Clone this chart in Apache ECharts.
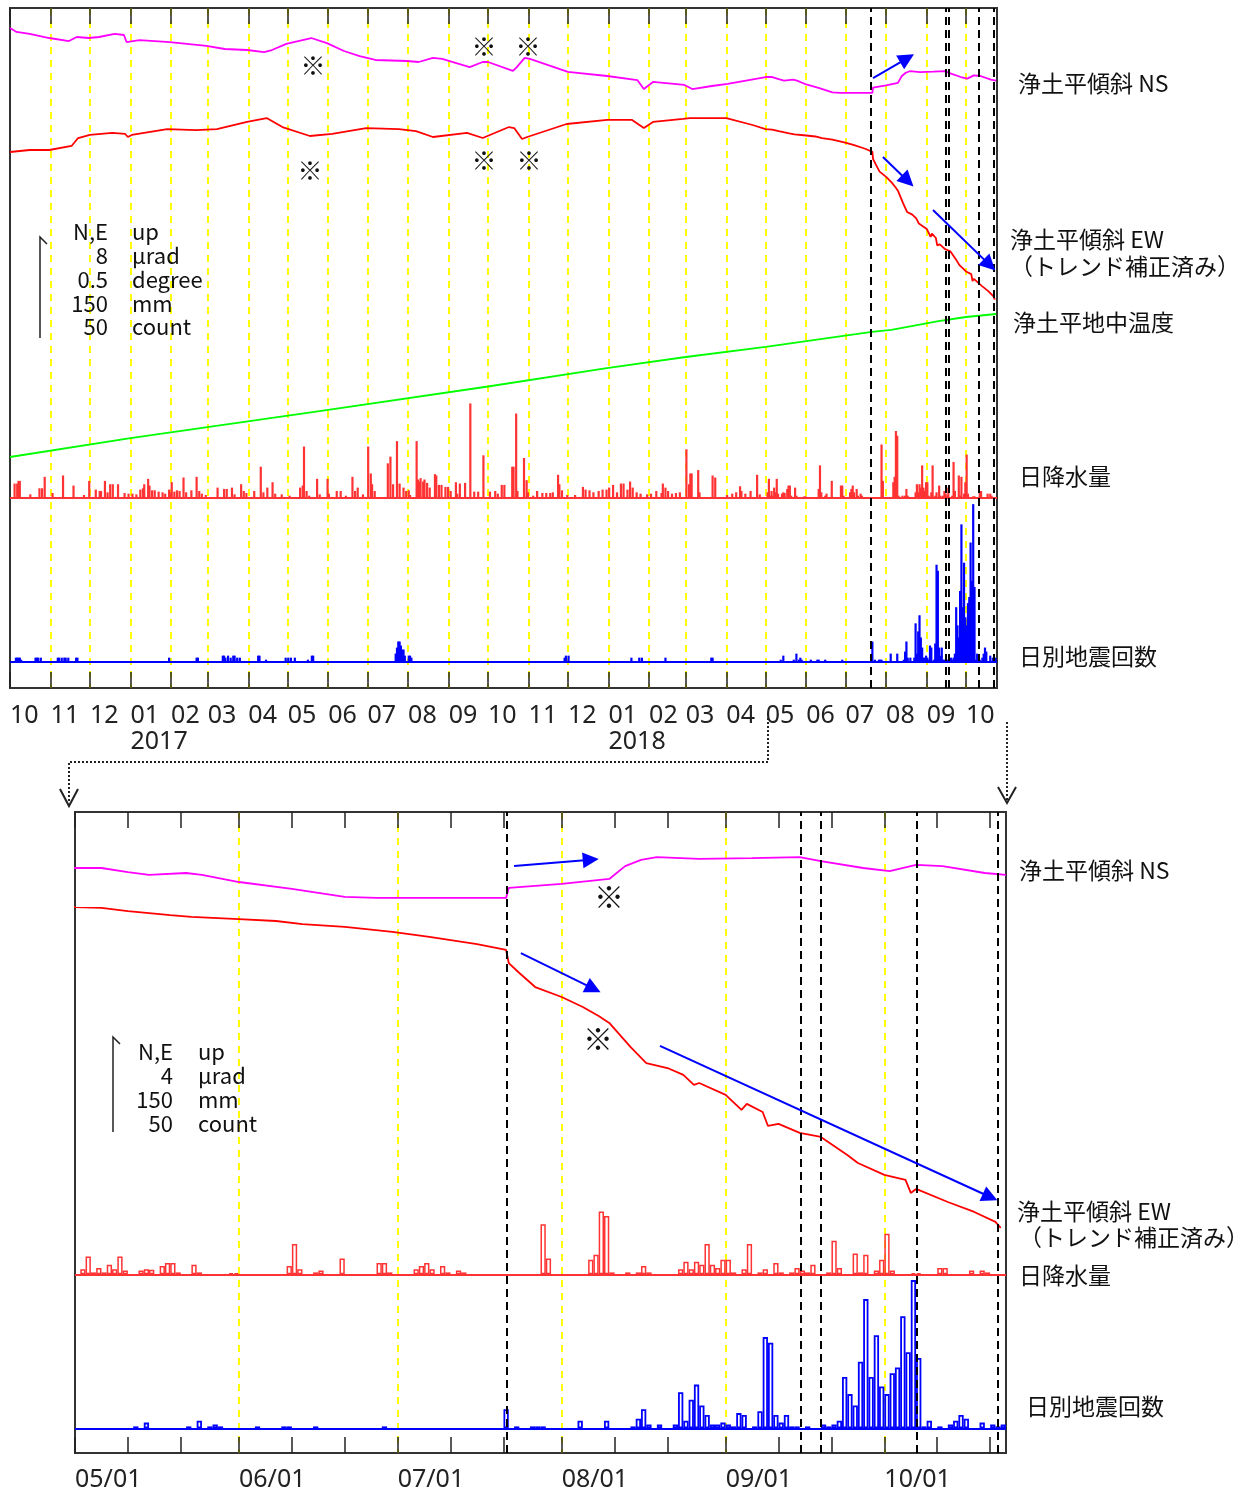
<!DOCTYPE html>
<html><head><meta charset="utf-8">
<script src="https://cdn.jsdelivr.net/npm/echarts@6/dist/echarts.min.js"></script>
<style>html,body{margin:0;padding:0;background:#fff}#c{width:1245px;height:1494px}</style>
</head><body><div id="c"></div><script>
// ---------------- data ----------------
// 浄土平傾斜 NS, μrad (relative)
const nsTilt = [
 ['2016-10-01',5.70],['2016-10-06',5.39],['2016-10-16',5.23],['2016-10-31',4.91],['2016-11-15',4.67],['2016-11-21',4.99],
 ['2016-11-30',4.91],['2016-12-08',4.99],['2016-12-20',5.23],['2016-12-27',5.15],['2016-12-29',4.59],['2017-01-08',4.75],
 ['2017-01-31',4.59],['2017-02-28',4.28],['2017-03-14',4.04],['2017-03-31',3.96],['2017-04-13',3.80],['2017-04-19',3.96],
 ['2017-04-30',4.44],['2017-05-19',4.91],['2017-05-31',4.51],['2017-06-13',3.88],['2017-06-25',3.48],['2017-07-07',3.17],
 ['2017-07-31',3.09],['2017-08-09',3.01],['2017-08-20',3.33],['2017-08-27',3.25],['2017-09-17',2.61],['2017-09-27',3.01],
 ['2017-10-01',3.01],['2017-10-20',2.30],['2017-10-23',2.61],['2017-10-29',3.33],['2017-11-02',3.25],['2017-12-01',2.22],
 ['2017-12-31',1.90],['2018-01-23',1.58],['2018-01-28',0.87],['2018-02-04',1.43],['2018-02-28',1.19],['2018-03-06',0.87],
 ['2018-03-21',1.11],['2018-04-02',1.27],['2018-05-01',1.82],['2018-05-06',1.82],['2018-05-11',1.65],['2018-05-15',1.53],
 ['2018-05-22',1.61],['2018-05-25',1.53],['2018-06-01',1.23],['2018-06-11',0.94],['2018-06-21',0.60],['2018-06-27',0.56],
 ['2018-07-07',0.56],['2018-07-21 12:00',0.56],['2018-07-22 00:00',0.98],['2018-08-01',1.15],['2018-08-10',1.36],
 ['2018-08-13',1.90],['2018-08-16',2.16],['2018-08-19',2.28],['2018-08-27',2.20],['2018-09-06',2.24],['2018-09-15',2.28],
 ['2018-09-19',2.11],['2018-09-27',1.82],['2018-10-02',1.69],['2018-10-07',1.95],['2018-10-12',1.90],['2018-10-20',1.61],
 ['2018-10-24',1.53]
];
// 浄土平傾斜 EW (トレンド補正済み), μrad (relative)
const ewTilt = [
 ['2016-10-01',-0.16],['2016-10-16',0.00],['2016-10-31',0.00],['2016-11-17',0.32],['2016-11-22',0.95],['2016-12-01',1.19],
 ['2016-12-18',1.35],['2016-12-28',1.27],['2016-12-30',1.03],['2017-01-02',1.19],['2017-01-29',1.66],['2017-02-20',1.58],
 ['2017-03-08',1.66],['2017-03-31',2.22],['2017-04-15',2.53],['2017-04-27',1.82],['2017-05-18',1.11],['2017-06-04',1.27],
 ['2017-06-30',1.74],['2017-07-25',1.66],['2017-08-07',1.50],['2017-08-20',1.03],['2017-09-15',1.35],['2017-09-27',0.95],
 ['2017-10-17',1.82],['2017-10-21',1.74],['2017-10-27',0.87],['2017-10-31',1.03],['2017-11-30',2.06],['2017-12-31',2.38],
 ['2018-01-19',2.38],['2018-01-28',1.74],['2018-02-04',2.22],['2018-02-27',2.46],['2018-03-04',2.53],['2018-04-01',2.53],
 ['2018-04-21',1.98],['2018-05-01',1.66],['2018-05-06',1.62],['2018-05-11',1.49],['2018-05-19',1.32],['2018-05-23',1.24],
 ['2018-06-01',1.15],['2018-06-08',1.07],['2018-06-13',0.94],['2018-06-21',0.82],['2018-06-30',0.61],['2018-07-07',0.40],
 ['2018-07-16',0.10],['2018-07-21 12:00',-0.15],['2018-07-22 00:00',-0.70],['2018-07-24',-1.12],['2018-07-27',-1.71],
 ['2018-08-01',-2.13],['2018-08-05',-2.55],['2018-08-08',-2.93],['2018-08-10',-3.22],['2018-08-14',-4.23],['2018-08-17',-4.91],
 ['2018-08-21',-5.12],['2018-08-24',-5.41],['2018-08-26',-5.83],['2018-08-27',-5.75],['2018-09-01',-6.25],['2018-09-04',-6.88],
 ['2018-09-05',-6.63],['2018-09-08',-6.97],['2018-09-09',-7.56],['2018-09-11',-7.47],['2018-09-15',-7.85],['2018-09-19',-8.02],
 ['2018-09-24',-8.78],['2018-09-26',-9.12],['2018-10-01',-9.62],['2018-10-05',-9.83],['2018-10-06',-10.38],['2018-10-07',-10.21],
 ['2018-10-13',-10.76],['2018-10-18',-11.18],['2018-10-22',-11.60],['2018-10-23',-11.85]
];
// 浄土平地中温度, degree (relative)
const groundTemp = [
 ['2016-10-01',0.000],['2017-01-01',0.093],['2017-06-01',0.233],['2017-10-01',0.349],['2018-01-01',0.441],['2018-03-01',0.495],
 ['2018-05-01',0.545],['2018-07-21',0.619],['2018-08-05',0.629],['2018-09-10',0.673],['2018-10-01',0.693],['2018-10-24',0.708]
];
// 日降水量, mm
const rainDaily = [
 ['2016-10-04',21],['2016-10-06',21],['2016-10-07',25],['2016-10-08',25],['2016-10-16',5],['2016-10-23',14],['2016-10-25',14],
 ['2016-10-27',31],['2016-11-02',7],['2016-11-10',33],['2016-11-18',18],['2016-11-26',4],['2016-11-30',25],['2016-12-05',12],
 ['2016-12-08',10],['2016-12-09',10],['2016-12-12',25],['2016-12-14',8],['2016-12-16',20],['2016-12-18',20],['2016-12-22',20],
 ['2016-12-27',7],['2016-12-30',6],['2017-01-02',6],['2017-01-05',5],['2017-01-08',12],['2017-01-10',14],['2017-01-11',20],
 ['2017-01-14',28],['2017-01-15',18],['2017-01-17',11],['2017-01-19',11],['2017-01-22',9],['2017-01-25',8],['2017-01-27',6],
 ['2017-01-30',12],['2017-01-31',8],['2017-02-01',23],['2017-02-03',9],['2017-02-05',11],['2017-02-07',10],['2017-02-10',30],
 ['2017-02-12',8],['2017-02-16',11],['2017-02-20',31],['2017-02-22',10],['2017-02-24',6],['2017-02-27',4],['2017-03-08',15],
 ['2017-03-13',13],['2017-03-15',13],['2017-03-19',15],['2017-03-21',5],['2017-03-26',20],['2017-03-28',10],['2017-03-30',7],
 ['2017-04-05',10],['2017-04-10',46],['2017-04-12',8],['2017-04-15',15],['2017-04-19',23],['2017-04-21',6],['2017-04-26',5],
 ['2017-05-02',3],['2017-05-10',15],['2017-05-12',18],['2017-05-13',76],['2017-05-15',10],['2017-05-17',3],['2017-05-23',28],
 ['2017-05-25',5],['2017-05-31',28],['2017-06-01',6],['2017-06-07',10],['2017-06-10',10],['2017-06-14',3],['2017-06-19',31],
 ['2017-06-21',10],['2017-06-23',15],['2017-06-27',5],['2017-07-01',76],['2017-07-03',36],['2017-07-04',20],['2017-07-06',10],
 ['2017-07-16',51],['2017-07-18',61],['2017-07-20',20],['2017-07-23',84],['2017-07-25',21],['2017-07-28',15],['2017-07-30',10],
 ['2017-08-01',11],['2017-08-02',4],['2017-08-07',84],['2017-08-08',27],['2017-08-09',24],['2017-08-10',29],['2017-08-12',24],
 ['2017-08-13',27],['2017-08-15',22],['2017-08-17',15],['2017-08-21',35],['2017-08-22',33],['2017-08-24',19],['2017-08-26',19],
 ['2017-08-29',16],['2017-08-31',16],['2017-09-02',10],['2017-09-06',23],['2017-09-07',6],['2017-09-09',21],['2017-09-13',22],
 ['2017-09-17',140],['2017-09-20',9],['2017-09-23',9],['2017-09-27',63],['2017-10-02',9],['2017-10-06',10],['2017-10-08',6],
 ['2017-10-11',19],['2017-10-13',19],['2017-10-19',46],['2017-10-20',46],['2017-10-22',125],['2017-10-23',10],['2017-10-28',59],
 ['2017-10-30',26],['2017-10-31',8],['2017-11-04',3],['2017-11-07',10],['2017-11-11',7],['2017-11-14',7],['2017-11-17',7],
 ['2017-11-19',8],['2017-11-23',34],['2017-11-24',20],['2017-11-26',11],['2017-11-30',4],['2017-12-06',4],['2017-12-12',16],
 ['2017-12-14',12],['2017-12-17',11],['2017-12-20',8],['2017-12-24',10],['2017-12-27',12],['2017-12-30',12],['2018-01-01',15],
 ['2018-01-04',19],['2018-01-07',8],['2018-01-10',21],['2018-01-12',21],['2018-01-15',12],['2018-01-17',24],['2018-01-19',15],
 ['2018-01-22',8],['2018-01-25',6],['2018-01-30',5],['2018-02-02',6],['2018-02-06',10],['2018-02-10',7],['2018-02-11',21],
 ['2018-02-13',15],['2018-02-15',10],['2018-02-18',6],['2018-02-21',7],['2018-02-24',8],['2018-03-01',72],['2018-03-03',20],
 ['2018-03-04',36],['2018-03-05',36],['2018-03-10',41],['2018-03-11',8],['2018-03-21',33],['2018-03-23',30],['2018-04-01',4],
 ['2018-04-05',6],['2018-04-08',8],['2018-04-11',17],['2018-04-12',10],['2018-04-15',6],['2018-04-19',10],['2018-04-24',34],
 ['2018-04-26',5],
 ['2018-05-02',8],['2018-05-03',28],['2018-05-04',3],['2018-05-05',10],['2018-05-06',3],['2018-05-07',15],['2018-05-08',8],
 ['2018-05-09',28],['2018-05-10',6],['2018-05-13',6],['2018-05-14',8],['2018-05-15',7],['2018-05-17',13],['2018-05-18',18],
 ['2018-05-19',18],['2018-05-20',3],['2018-05-23',15],['2018-05-24',3],['2018-05-30',2],['2018-05-31',2],['2018-06-10',13],
 ['2018-06-11',48],['2018-06-12',8],['2018-06-15',3],['2018-06-16',6],['2018-06-20',25],['2018-06-27',18],['2018-06-28',18],
 ['2018-06-29',3],['2018-07-04',8],['2018-07-05',13],['2018-07-06',18],['2018-07-07',8],['2018-07-09',13],['2018-07-10',3],
 ['2018-07-12',6],['2018-07-13',3],['2018-07-28',79],['2018-07-29',25],['2018-08-06',23],['2018-08-07',31],['2018-08-08',99],
 ['2018-08-09',92],['2018-08-10',3],['2018-08-13',3],['2018-08-15',3],['2018-08-16',13],['2018-08-17',3],['2018-08-23',8],
 ['2018-08-24',20],['2018-08-25',8],['2018-08-26',20],['2018-08-27',15],['2018-08-28',48],['2018-08-29',15],['2018-08-30',10],
 ['2018-08-31',23],['2018-09-01',23],['2018-09-02',3],['2018-09-04',8],['2018-09-05',48],['2018-09-07',3],['2018-09-08',8],
 ['2018-09-10',18],['2018-09-11',3],['2018-09-13',3],['2018-09-14',10],['2018-09-15',6],['2018-09-16',3],['2018-09-17',15],
 ['2018-09-20',3],['2018-09-21',53],['2018-09-22',10],['2018-09-25',33],['2018-09-26',3],['2018-09-27',31],['2018-09-29',6],
 ['2018-09-30',23],['2018-10-01',64],['2018-10-02',6],['2018-10-06',2],['2018-10-07',2],['2018-10-11',10],['2018-10-12',10],
 ['2018-10-17',6],['2018-10-19',6],['2018-10-20',3]
];
// 日別地震回数, count
const quakeDaily = [
 ['2016-10-05',2],['2016-10-06',2],['2016-10-07',2],['2016-10-08',2],['2016-10-09',1],['2016-10-20',2],['2016-10-21',2],
 ['2016-10-22',2],['2016-10-24',2],['2016-11-06',2],['2016-11-07',2],['2016-11-09',2],['2016-11-11',2],['2016-11-12',2],
 ['2016-11-14',2],['2016-11-20',2],['2016-11-21',2],['2017-01-30',2],['2017-02-20',2],['2017-02-21',2],['2017-03-12',3],
 ['2017-03-13',3],['2017-03-14',2],['2017-03-16',3],['2017-03-18',2],['2017-03-20',3],['2017-03-21',3],['2017-03-23',2],
 ['2017-03-25',2],['2017-04-08',3],['2017-04-09',3],['2017-04-14',1],['2017-04-29',2],['2017-05-01',2],['2017-05-03',2],
 ['2017-05-06',2],['2017-05-16',1],['2017-05-19',3],['2017-05-20',3],['2017-07-22',4],['2017-07-23',7],['2017-07-24',10],
 ['2017-07-25',10],['2017-07-26',8],['2017-07-27',6],['2017-07-28',6],['2017-07-29',3],['2017-08-01',3],['2017-08-02',3],
 ['2017-08-03',2],['2017-11-28',2],['2017-11-29',3],['2017-12-01',3],['2018-01-18',2],['2018-01-24',2],['2018-01-26',2],
 ['2018-02-13',2],['2018-03-20',2],['2018-03-21',2],
 ['2018-05-12',1],['2018-05-14',3],['2018-05-22',1],['2018-05-24',4],['2018-05-26',1],['2018-05-27',2],['2018-05-28',1],
 ['2018-06-04',1],['2018-06-09',1],['2018-06-10',1],['2018-06-15',1],['2018-06-28',1],['2018-07-21',10],['2018-07-23',1],
 ['2018-07-26',1],['2018-07-27',1],['2018-07-28',1],['2018-08-04',4],['2018-08-09',4],['2018-08-14',1],['2018-08-15',5],
 ['2018-08-16',10],['2018-08-17',2],['2018-08-19',2],['2018-08-22',2],['2018-08-23',19],['2018-08-24',4],['2018-08-25',15],
 ['2018-08-26',23],['2018-08-27',12],['2018-08-28',7],['2018-08-29',2],['2018-08-30',2],['2018-08-31',3],['2018-09-01',2],
 ['2018-09-02',1],['2018-09-03',8],['2018-09-04',7],['2018-09-06',1],['2018-09-07',9],['2018-09-08',48],['2018-09-09',45],
 ['2018-09-10',7],['2018-09-11',3],['2018-09-12',7],['2018-09-13',1],['2018-09-14',1],['2018-09-16',1],['2018-09-19',2],
 ['2018-09-20',1],['2018-09-21',2],['2018-09-22',4],['2018-09-23',27],['2018-09-24',18],['2018-09-25',12],['2018-09-26',35],
 ['2018-09-27',68],['2018-09-28',27],['2018-09-29',49],['2018-09-30',22],['2018-10-01',18],['2018-10-02',29],['2018-10-03',32],
 ['2018-10-04',59],['2018-10-05',40],['2018-10-06',78],['2018-10-07',37],['2018-10-08',1],['2018-10-09',4],['2018-10-11',1],
 ['2018-10-13',2],['2018-10-14',4],['2018-10-15',7],['2018-10-16',5],['2018-10-19',3],['2018-10-21',2],['2018-10-22',1],
 ['2018-10-23',2]
];
// tick values
const topMonthTicks = ['2016-10-01','2016-11-01','2016-12-01','2017-01-01','2017-02-01','2017-03-01','2017-04-01','2017-05-01',
 '2017-06-01','2017-07-01','2017-08-01','2017-09-01','2017-10-01','2017-11-01','2017-12-01','2018-01-01','2018-02-01',
 '2018-03-01','2018-04-01','2018-05-01','2018-06-01','2018-07-01','2018-08-01','2018-09-01','2018-10-01'];
const bottomTenDayTicks = ['2018-05-01','2018-05-11','2018-05-21','2018-06-01','2018-06-11','2018-06-21','2018-07-01','2018-07-11',
 '2018-07-21','2018-08-01','2018-08-11','2018-08-21','2018-09-01','2018-09-11','2018-09-21','2018-10-01','2018-10-11','2018-10-21'];
const bottomMonthTicks = ['2018-05-01','2018-06-01','2018-07-01','2018-08-01','2018-09-01','2018-10-01'];
// event lines (black dashed)
const topEventDates = ['2018-07-20 00:00','2018-09-15 12:00','2018-09-17 18:00','2018-10-10 16:00','2018-10-22 10:00'];
const bottomEventDates = ['2018-07-21 16:00','2018-09-15 05:00','2018-09-19 00:00','2018-10-07 05:00','2018-10-22 12:00'];
// blue arrows [start, end] in (date, μrad)
const topNsArrows = [[['2018-07-22 00:00',1.74],['2018-08-17 00:00',3.30]]];
const topEwArrows = [[['2018-07-29 14:00',-0.55],['2018-08-17 12:00',-2.45]],[['2018-09-05 19:00',-4.75],['2018-10-19 00:00',-9.10]]];
const botNsArrows = [[['2018-07-23 00:00',1.90],['2018-08-06 12:00',2.17]]];
const botEwArrows = [[['2018-07-24 07:00',-0.28],['2018-08-07 00:00',-1.78]],[['2018-08-19 14:00',-4.19],['2018-10-21 00:00',-10.55]]];

// ---------------- helpers ----------------
const DAY = 86400000;
function ts(s){ const p = s.split(' '); const [Y,M,D] = p[0].split('-').map(Number); let h=0, mi=0;
  if (p[1]) { [h,mi] = p[1].split(':').map(Number); } return Date.UTC(Y, M-1, D, h, mi); }
const pts = a => a.map(([d,v]) => [ts(d), v]);
const barsOf = a => a.map(([d,v]) => [ts(d) + DAY/2, v]);
const TOP = {left:10, top:8, width:987, height:680};
const BOT = {left:75, top:812, width:931, height:641};
function yr(refVal, refPx, g, perPx){ return {min: refVal - (g.top + g.height - refPx)*perPx, max: refVal + (refPx - g.top)*perPx}; }
const FJP = '"Noto Sans CJK JP","Noto Sans",sans-serif';
const FNUM = '"Liberation Sans Narrow","Noto Sans",sans-serif';
const pad = n => (n < 10 ? '0' : '') + n;
const fmtTop = v => { const d = new Date(v); const m = d.getUTCMonth()+1; return m === 1 ? pad(m) + '\n' + d.getUTCFullYear() : pad(m); };
const fmtBot = v => { const d = new Date(v); return pad(d.getUTCMonth()+1) + '/' + pad(d.getUTCDate()); };

const yellowSplit = {show:true, lineStyle:{color:'#ffff00', type:[7,6], width:2}};
const tickStyle = {show:true, inside:true, length:16, lineStyle:{color:'#222', width:1.5}};
function tickAxis(grid, min, max, pos, vals){
  return {type:'value', gridIndex:grid, min, max, position:pos, z:6, scale:true,
    axisLine:{show:false, onZero:false}, axisTick:Object.assign({customValues:vals.map(ts)}, tickStyle),
    axisLabel:{show:false}, splitLine:{show:false}};
}
function labelAxis(grid, min, max, vals, fmt, margin){
  return {type:'value', gridIndex:grid, min, max, position:'bottom', z:1, scale:true,
    axisLine:{show:false, onZero:false}, axisTick:{show:false, customValues:vals.slice(1).map(ts)},
    axisLabel:{show:true, customValues:vals.map(ts), formatter:fmt, align:'left', verticalAlign:'top', margin,
      color:'#222', fontSize:25, lineHeight:26, fontFamily:FNUM, showMinLabel:true, showMaxLabel:true},
    splitLine:yellowSplit};
}
const tMin = ts('2016-10-01'), tMax = ts('2018-10-24 16:00');
const bMin = ts('2018-05-01'), bMax = ts('2018-10-24 00:00');

const hidY = (grid, r) => ({type:'value', gridIndex:grid, min:r.min, max:r.max, show:false});
const evLines = (dates) => dates.map(d => ({xAxis: ts(d), lineStyle:{color:'#000', type:[8,5], width:2}}));
const arrows = (list) => list.map(([a,b]) => [{coord:[ts(a[0]), a[1]]}, {coord:[ts(b[0]), b[1]]}]);
const arrowML = (list) => ({silent:true, symbol:['none','triangle'], symbolSize:16, label:{show:false}, emphasis:{disabled:true},
  lineStyle:{color:'#0000ff', width:2, type:'solid'}, itemStyle:{color:'#0000ff'}, data: arrows(list)});
const plainML = (data) => ({silent:true, symbol:'none', label:{show:false}, emphasis:{disabled:true}, data});

function lineS(name, xi, yi, data, color, extra){
  return Object.assign({name, type:'line', xAxisIndex:xi, yAxisIndex:yi, data:pts(data), showSymbol:false, symbol:'none',
    lineStyle:{color, width:1.8}, itemStyle:{color}, emphasis:{disabled:true}, silent:true, z:3}, extra || {});
}

const option = {
  animation:false, backgroundColor:'#fff',
  grid:[
    Object.assign({show:true, borderColor:'#333', borderWidth:2, backgroundColor:'transparent', containLabel:false, outerBoundsMode:'none'}, TOP),
    Object.assign({show:true, borderColor:'#333', borderWidth:2, backgroundColor:'transparent', containLabel:false, outerBoundsMode:'none'}, BOT)
  ],
  xAxis:[
    labelAxis(0, tMin, tMax, topMonthTicks, fmtTop, 15),          // 0
    tickAxis(0, tMin, tMax, 'top', topMonthTicks),                // 1
    tickAxis(0, tMin, tMax, 'bottom', topMonthTicks),             // 2
    labelAxis(1, bMin, bMax, bottomMonthTicks, fmtBot, 14),       // 3
    tickAxis(1, bMin, bMax, 'bottom', bottomTenDayTicks),         // 4
    tickAxis(1, bMin, bMax, 'top', bottomTenDayTicks)             // 5
  ],
  yAxis:[
    hidY(0, yr(0, 100, TOP, 8/101)),      // 0 NS
    hidY(0, yr(0, 150, TOP, 8/101)),      // 1 EW
    hidY(0, yr(0, 457, TOP, 0.5/101)),    // 2 temp
    hidY(0, yr(0, 497.7, TOP, 150/101)),  // 3 rain
    hidY(0, yr(0, 661.7, TOP, 50/101)),   // 4 quake
    hidY(1, yr(1.82, 868, BOT, 4/95)),    // 5 NS
    hidY(1, yr(1.66, 907, BOT, 4/95)),    // 6 EW
    hidY(1, yr(0, 1274.3, BOT, 150/95)),  // 7 rain
    hidY(1, yr(0, 1428.3, BOT, 50/95))    // 8 quake
  ],
  series:[
    // ---- top ----
    {name:'rainTop', type:'bar', xAxisIndex:0, yAxisIndex:3, data:barsOf(rainDaily), barWidth:2.2, barGap:'-100%',
      itemStyle:{color:'#ff3333'}, silent:true, z:2,
      markLine: plainML([{yAxis:0, lineStyle:{color:'#ff3333', width:2, type:'solid'}}].concat(evLines(topEventDates)))},
    {name:'quakeTop', type:'bar', xAxisIndex:0, yAxisIndex:4, data:barsOf(quakeDaily), barWidth:2.2, barGap:'-100%',
      itemStyle:{color:'#0000ff'}, silent:true, z:2,
      markLine: plainML([{yAxis:0, lineStyle:{color:'#0000ff', width:2, type:'solid'}}])},
    lineS('tempTop', 0, 2, groundTemp, '#00ff00'),
    lineS('nsTop', 0, 0, nsTilt, '#ff00ff', {markLine: arrowML(topNsArrows)}),
    lineS('ewTop', 0, 1, ewTilt, '#ff0000', {markLine: arrowML(topEwArrows)}),
    // ---- bottom ----
    {name:'rainBot', type:'bar', xAxisIndex:3, yAxisIndex:7, data:barsOf(rainDaily), barWidth:5.29, barGap:'-100%',
      itemStyle:{color:'rgba(255,255,255,0)', borderColor:'#ff3333', borderWidth:1.5}, silent:true, z:2, clip:true,
      markLine: plainML([{yAxis:0, lineStyle:{color:'#ff3333', width:2, type:'solid'}}].concat(evLines(bottomEventDates)))},
    {name:'quakeBot', type:'bar', xAxisIndex:3, yAxisIndex:8, data:barsOf(quakeDaily), barWidth:5.29, barGap:'-100%',
      itemStyle:{color:'rgba(255,255,255,0)', borderColor:'#0000ff', borderWidth:1.8}, silent:true, z:2, clip:true,
      markLine: plainML([{yAxis:0, lineStyle:{color:'#0000ff', width:2, type:'solid'}}])},
    lineS('nsBot', 3, 5, nsTilt, '#ff00ff', {markLine: arrowML(botNsArrows)}),
    lineS('ewBot', 3, 6, ewTilt, '#ff0000', {markLine: arrowML(botEwArrows)})
  ],
  graphic: []
};

// ---- annotations (text, scale bars, connectors) ----
const G = option.graphic;
function txt(text, x, y, size, align, font){
  G.push({type:'text', x, y, silent:true, z:10, style:{text, fill:'#111', fontSize:size, fontFamily:font||FJP, align:align||'left', verticalAlign:'middle'}});
}
function pl(points, dash, w){
  G.push({type:'polyline', silent:true, z:10, shape:{points}, style:{stroke:'#222', lineWidth:w||1.5, fill:null, lineDash:dash||null}});
}
txt('浄土平傾斜 NS', 1018, 83, 23);
txt('浄土平傾斜 EW', 1010, 239, 23);
txt('（トレンド補正済み）', 1010, 266, 23);
txt('浄土平地中温度', 1013, 322, 23);
txt('日降水量', 1019, 476, 23);
txt('日別地震回数', 1019, 656, 23);
txt('浄土平傾斜 NS', 1019, 870, 23);
txt('浄土平傾斜 EW', 1017, 1211, 23);
txt('（トレンド補正済み）', 1019, 1237, 23);
txt('日降水量', 1019, 1275, 23);
txt('日別地震回数', 1026, 1406, 23);
const legTopA = ['N,E','8','0.5','150','50'], legTopB = ['up','μrad','degree','mm','count'];
const legTopY = [232, 256, 280, 304, 327];
legTopA.forEach((s,i) => txt(s, 108, legTopY[i], 22, 'right'));
legTopB.forEach((s,i) => txt(s, 132, legTopY[i], 22, 'left'));
pl([[47,244],[40,237],[40,338]]);
const legBotA = ['N,E','4','150','50'], legBotB = ['up','μrad','mm','count'];
const legBotY = [1052, 1076, 1100, 1124];
legBotA.forEach((s,i) => txt(s, 173, legBotY[i], 22, 'right'));
legBotB.forEach((s,i) => txt(s, 198, legBotY[i], 22, 'left'));
pl([[120,1044],[113,1037],[113,1132]]);
[[313,65],[310,170],[484,46],[528,46],[484,160],[529,160]].forEach(p => txt('※', p[0], p[1], 25, 'center'));
[[609,897],[598,1039]].forEach(p => txt('※', p[0], p[1], 30, 'center'));
pl([[768,718],[768,762],[69,762],[69,803]], [2,2], 2);
pl([[60,789],[69,806],[78,789]], null, 2);
pl([[1007,722],[1007,800]], [2,2], 2);
pl([[998,787],[1007,803],[1016,787]], null, 2);

const chart = echarts.init(document.getElementById('c'), null, {renderer:'canvas'});
chart.setOption(option);
</script></body></html>
